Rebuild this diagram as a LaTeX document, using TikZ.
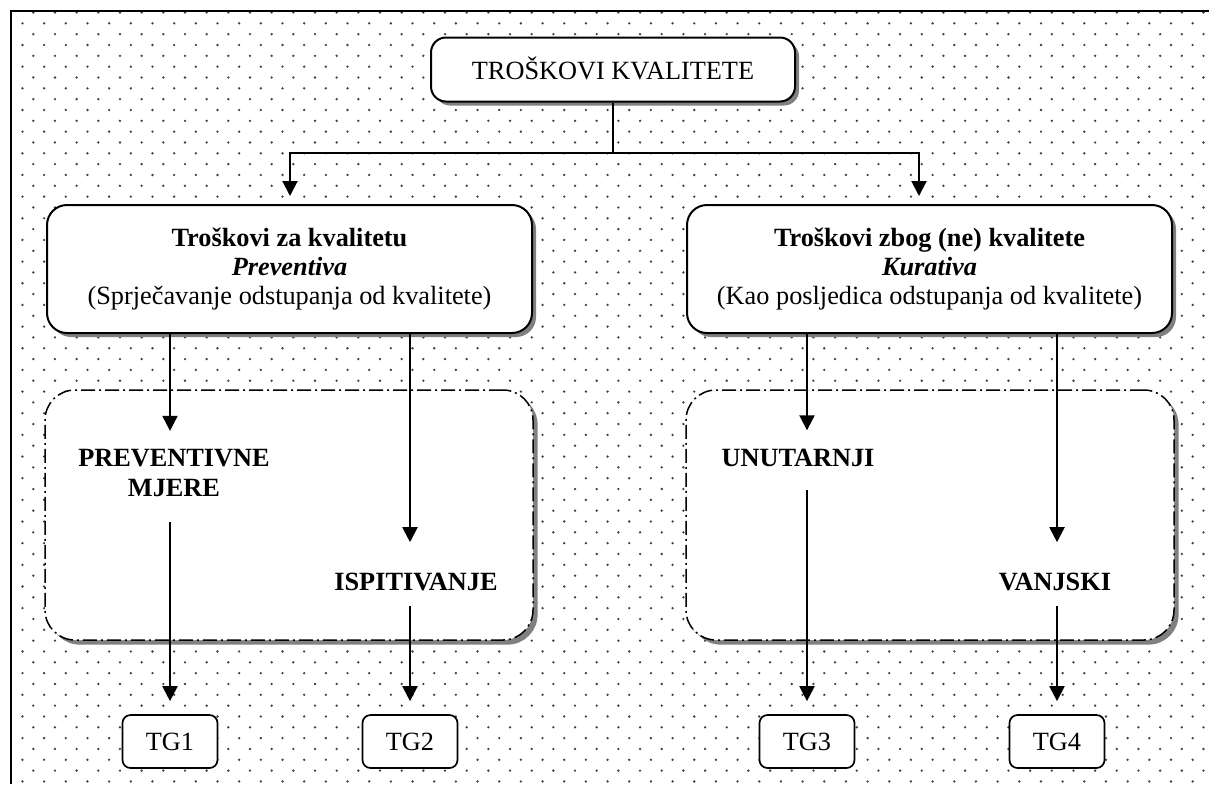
\documentclass[tikz,border=0pt]{standalone}
\usepackage{fontspec}
\setmainfont{Liberation Serif}
\usetikzlibrary{shadows,arrows.meta}
\begin{document}
\begin{tikzpicture}[x=0.5pt,y=-0.5pt,
  every node/.style={font=\fontsize{13.15pt}{14.5pt}\selectfont, inner sep=0pt},
  shade3/.style={drop shadow={shadow xshift=2pt, shadow yshift=-2pt, fill=black!50, opacity=1}},
  topbox/.style={draw, line width=1pt, rounded corners=7.5pt, fill=white, shade3,
    minimum width=182pt, minimum height=32pt},
  bigbox/.style={draw, line width=1pt, rounded corners=10pt, fill=white, shade3,
    minimum width=242.5pt, minimum height=64pt, align=center},
  groupbox/.style={draw, line width=0.75pt, dash pattern=on 7pt off 2pt on 1pt off 2pt,
    rounded corners=15pt, fill=white,
    drop shadow={shadow xshift=2.3pt, shadow yshift=-2.3pt, fill=black!50, opacity=1},
    minimum width=244pt, minimum height=125pt},
  tgbox/.style={draw, line width=0.85pt, rounded corners=4pt, fill=white,
    minimum width=47.5pt, minimum height=26.5pt},
  cat/.style={font=\fontsize{13.15pt}{15pt}\selectfont\bfseries, align=center},
  conn/.style={line width=1pt},
  arr/.style={conn, -{Triangle[length=7.5pt,width=7.5pt]}}
]
\useasboundingbox (0,0) rectangle (1209,784);
% dotted background
\begin{scope}
\clip (11,11) rectangle (1209,784);
\foreach \j in {0,...,71} {
  \pgfmathsetmacro{\yy}{12.5+10.83*\j}
  \pgfmathsetmacro{\xo}{33.3-mod(\j,2)*10.83}
  \fill[black!75] \foreach \i in {0,...,55} { ({\xo+21.67*\i},\yy) circle (0.65pt) };
}
\end{scope}
\draw[line width=1.3pt] (11,784) -- (11,11) -- (1209,11);

% boxes
\node[topbox] (top) at (613,69.5) {\raisebox{1.5pt}{TROŠKOVI KVALITETE}};
\node[bigbox] (lbox) at (289.5,269) {\textbf{Troškovi za kvalitetu}\\\textbf{\textit{Preventiva}}\\(Sprječavanje odstupanja od kvalitete)};
\node[bigbox] (rbox) at (929.5,269) {\textbf{Troškovi zbog (ne) kvalitete}\\\textbf{\textit{Kurativa}}\\(Kao posljedica odstupanja od kvalitete)};
\node[groupbox] (lgroup) at (289,515) {};
\node[groupbox] (rgroup) at (930,515) {};

\node[cat] (pm) at (174,473) {PREVENTIVNE\\MJERE};
\node[cat] (isp) at (416,581.5) {ISPITIVANJE};
\node[cat] (unu) at (798,457.5) {UNUTARNJI};
\node[cat] (van) at (1055,581.5) {VANJSKI};

\node[tgbox] (tg1) at (170,741.5) {TG1};
\node[tgbox] (tg2) at (410,741.5) {TG2};
\node[tgbox] (tg3) at (807,741.5) {TG3};
\node[tgbox] (tg4) at (1057,741.5) {TG4};

% connectors
\coordinate (split) at (613,153);
\draw[conn] (top.south) -- (split);
\draw[arr, shorten >=4pt] (split) -| (290,0 |- lbox.north);
\draw[arr, shorten >=4pt] (split) -| (919,0 |- rbox.north);

\draw[arr, shorten >=9pt] (tg1.north |- lbox.south) -- (tg1.north |- pm.north);
\draw[arr, shorten <=12.5pt, shorten >=6.5pt] (tg1.north |- pm.south) -- (tg1.north);
\draw[arr, shorten >=15pt] (tg2.north |- lbox.south) -- (tg2.north |- isp.north);
\draw[arr, shorten <=7.5pt, shorten >=6.5pt] (tg2.north |- isp.south) -- (tg2.north);

\draw[arr, shorten >=9pt] (tg3.north |- rbox.south) -- (tg3.north |- unu.north);
\draw[arr, shorten <=11.5pt, shorten >=6.5pt] (tg3.north |- unu.south) -- (tg3.north);
\draw[arr, shorten >=15pt] (tg4.north |- rbox.south) -- (tg4.north |- van.north);
\draw[arr, shorten <=7.5pt, shorten >=6.5pt] (tg4.north |- van.south) -- (tg4.north);
\end{tikzpicture}
\end{document}
